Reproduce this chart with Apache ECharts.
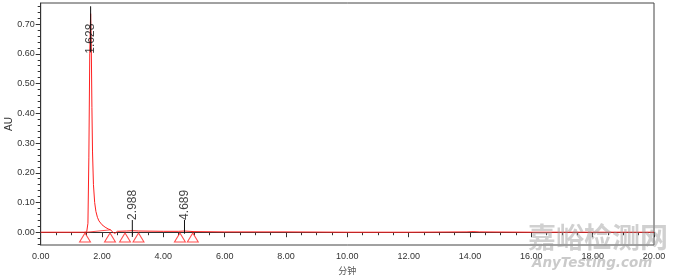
<!DOCTYPE html>
<html>
<head>
<meta charset="utf-8">
<script src="https://cdn.jsdelivr.net/npm/echarts@6/dist/echarts.min.js"></script>
<style>html,body{margin:0;padding:0;background:#fff}#c{width:680px;height:278px}</style>
</head>
<body>
<div id="c"></div>
<script>
// chromatogram trace (time in min, absorbance AU)
var timeMin = [0, 0.5, 1.0, 1.4, 1.5, 1.54, 1.57, 1.6, 1.628, 1.65, 1.67, 1.69, 1.72, 1.76, 1.8, 1.85, 1.9, 2.0, 2.1, 2.2, 2.28, 2.35, 2.42, 2.5, 2.8, 2.988, 3.2, 4.0, 4.5, 4.689, 5.0, 6.0, 8, 10, 12, 13.9, 14.1, 14.3, 16, 18, 20];
var auValues = [0, 0, 0, 0, 0.001, 0.03, 0.25, 0.6, 0.735, 0.62, 0.42, 0.27, 0.16, 0.1, 0.07, 0.05, 0.038, 0.025, 0.017, 0.011, 0.008, 0.0, -0.004, 0.003, 0.004, 0.005, 0.004, 0.003, 0.003, 0.004, 0.002, 0.001, 0.001, 0.0, 0.0, 0.001, 0.002, 0.001, 0.0, 0.0, 0.0];
// integration baseline of main peak
var baseTime = [1.5, 2.28];
var baseAU = [0, 0.008];
// peak retention times
var peakTimes = [1.628, 2.988, 4.689];
var peakNames = ['1.628', '2.988', '4.689'];
// peak start/end markers (triangles)
var markerTimes = [1.445, 2.26, 2.75, 3.19, 4.54, 4.96];
var markerAU = [-0.018, -0.018, -0.018, -0.018, -0.018, -0.018];
// axis ticks
var yTickLabels = [0, 0.1, 0.2, 0.3, 0.4, 0.5, 0.6, 0.7];
var yMinorTicks = [-0.04, -0.02, 0, 0.02, 0.04, 0.06, 0.08, 0.1, 0.12, 0.14, 0.16, 0.18, 0.2, 0.22, 0.24, 0.26, 0.28, 0.3, 0.32, 0.34, 0.36, 0.38, 0.4, 0.42, 0.44, 0.46, 0.48, 0.5, 0.52, 0.54, 0.56, 0.58, 0.6, 0.62, 0.64, 0.66, 0.68, 0.7, 0.72, 0.74, 0.76];

var chart = echarts.init(document.getElementById('c'), null, {renderer: 'canvas'});
var FONT = 'Liberation Sans, Arial, sans-serif';
var YMIN = -0.043, YMAX = 0.771;

var trace = timeMin.map(function (t, i) { return [t, auValues[i]]; });
var base = baseTime.map(function (t, i) { return [t, baseAU[i]]; });
var markers = markerTimes.map(function (t, i) { return [t, markerAU[i]]; });

// label line extents & label centres (layout, not data)
var lineSpan = [[0.76, 0.605], [0.041, -0.016], [0.041, -0.005]];
var labelCenter = [0.651, 0.092, 0.092];

var series = [
  {type: 'line', data: trace, showSymbol: false, symbol: 'none', lineStyle: {color: '#ff2020', width: 1}, z: 3},
  {type: 'line', data: base, showSymbol: false, symbol: 'none', lineStyle: {color: '#ff2020', width: 0.8}, z: 3},
  {type: 'scatter', data: markers, symbol: 'triangle', symbolSize: [11, 9],
   itemStyle: {color: 'rgba(0,0,0,0)', borderColor: '#ff2020', borderWidth: 1}, z: 4}
];
peakTimes.forEach(function (t, i) {
  series.push({type: 'line', data: [[t, lineSpan[i][0]], [t, lineSpan[i][1]]], showSymbol: false, symbol: 'none',
    lineStyle: {color: '#111', width: 1}, z: 5});
});
series.push({type: 'scatter', symbolSize: 0,
  data: peakTimes.map(function (t, i) { return {value: [t, labelCenter[i]], name: peakNames[i]}; }),
  label: {show: true, position: 'inside', rotate: 90, formatter: function (p) { return p.name; },
    color: '#111', fontSize: 12, fontFamily: FONT, align: 'center', verticalAlign: 'middle'}, z: 6});

chart.setOption({
  animation: false,
  backgroundColor: '#fff',
  grid: {left: 40.7, right: 26, top: 3, bottom: 33, show: true, borderColor: '#444', borderWidth: 1,
    containLabel: false, outerBoundsMode: 'none'},
  xAxis: {
    type: 'value', min: 0, max: 20, interval: 2,
    name: '分钟', nameLocation: 'middle', nameGap: 21, nameMoveOverlap: false,
    nameTextStyle: {color: '#555', fontSize: 9, fontFamily: 'Noto Sans CJK SC'},
    axisLine: {show: true, lineStyle: {color: '#333'}},
    axisTick: {show: true, length: 5, lineStyle: {color: '#333'}},
    minorTick: {show: true, splitNumber: 4, length: 3, lineStyle: {color: '#333'}},
    splitLine: {show: false},
    axisLabel: {color: '#333', fontSize: 9, fontFamily: FONT, margin: 7,
      formatter: function (v) { return v.toFixed(2); }}
  },
  yAxis: [{
    type: 'value', min: YMIN, max: YMAX,
    name: 'AU', nameLocation: 'middle', nameGap: 26, nameMoveOverlap: false,
    nameTextStyle: {color: '#333', fontSize: 10, fontFamily: FONT},
    axisLine: {show: true, lineStyle: {color: '#333'}},
    axisTick: {show: true, length: 5, customValues: yTickLabels, lineStyle: {color: '#333'}},
    splitLine: {show: false},
    axisLabel: {color: '#333', fontSize: 9, fontFamily: FONT, margin: 6, customValues: yTickLabels,
      formatter: function (v) { return v.toFixed(2); }}
  }, {
    type: 'value', min: YMIN, max: YMAX, position: 'left',
    axisLine: {show: false},
    axisTick: {show: true, length: 3, customValues: yMinorTicks, lineStyle: {color: '#333'}},
    splitLine: {show: false},
    axisLabel: {show: false, customValues: yMinorTicks}
  }],
  graphic: [
    {type: 'text', left: 528, top: 223, silent: true, z: 100,
     style: {text: '嘉峪检测网', fill: 'rgba(150,150,150,0.45)', font: 'bold 28px "Noto Sans CJK SC"'}},
    {type: 'text', left: 532, top: 256, silent: true, z: 100,
     style: {text: 'AnyTesting.com', fill: 'rgba(150,150,150,0.5)', font: 'italic bold 13.5px "DejaVu Sans"'}}
  ],
  series: series
});
</script>
</body>
</html>
